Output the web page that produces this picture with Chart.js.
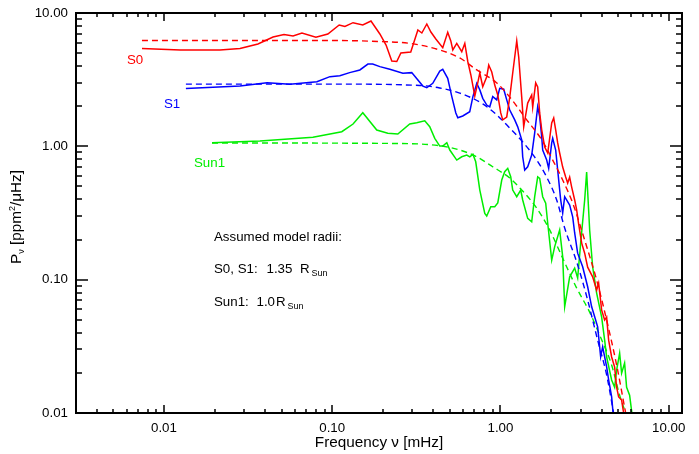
<!DOCTYPE html>
<html><head><meta charset="utf-8">
<script src="https://cdn.jsdelivr.net/npm/chart.js@4.4.0/dist/chart.umd.min.js"></script>
<style>html,body{margin:0;padding:0;background:#fff;}</style>
</head><body>
<canvas id="c" width="699" height="454"></canvas>
<script>
// ---- data (frequency in mHz, power in ppm^2/uHz) ----
const decadeTicks = [0.01, 0.1, 1, 10];
const xRange = [0.003, 12];
const yRange = [0.01, 10];

const s0Observed = [[0.0074,5.42],[0.0125,5.28],[0.0215,5.28],[0.0283,5.42],[0.0362,5.85],[0.0445,6.61],[0.0517,6.90],[0.0585,6.72],[0.0661,7.08],[0.080,6.57],[0.0942,6.96],[0.110,8.13],[0.119,7.92],[0.133,8.46],[0.152,8.13],[0.170,8.71],[0.192,6.96],[0.209,5.75],[0.226,4.37],[0.242,4.33],[0.256,5.01],[0.293,5.10],[0.323,7.46],[0.341,7.08],[0.365,8.27],[0.386,7.20],[0.413,6.38],[0.454,5.50],[0.486,7.17],[0.507,6.17],[0.521,5.28],[0.550,5.92],[0.589,5.13],[0.614,5.92],[0.640,4.31],[0.667,3.43],[0.704,2.38],[0.733,2.99],[0.754,3.55],[0.785,2.80],[0.829,3.33],[0.852,4.07],[0.888,3.61],[0.925,2.88],[0.964,2.43],[1.004,1.78],[1.032,1.58],[1.090,1.66],[1.136,2.34],[1.183,3.55],[1.250,6.17],[1.284,4.68],[1.338,2.34],[1.375,1.40],[1.452,2.11],[1.534,2.43],[1.555,1.97],[1.620,2.99],[1.665,2.79],[1.711,1.78],[1.759,1.33],[1.833,0.988],[1.910,0.891],[2.017,1.50],[2.073,1.63],[2.130,1.33],[2.189,1.06],[2.249,0.891],[2.344,0.699],[2.442,0.588],[2.510,0.530],[2.579,0.588],[2.651,0.495],[2.762,0.396],[2.839,0.333],[2.917,0.261],[3.040,0.188],[3.167,0.158],[3.299,0.124],[3.532,0.105],[3.731,0.0836],[3.834,0.0943],[3.996,0.0591],[4.163,0.0498],[4.278,0.0524],[4.397,0.0352],[4.581,0.0263],[4.773,0.0221],[4.905,0.0156],[5.041,0.0132],[5.252,0.0125],[5.47,0.009]];

const s1Observed = [[0.0135,2.71],[0.0283,2.83],[0.0410,3.00],[0.0561,2.92],[0.0811,3.05],[0.0969,3.33],[0.111,3.39],[0.127,3.57],[0.146,3.74],[0.163,4.14],[0.174,4.14],[0.192,3.96],[0.220,3.78],[0.263,3.53],[0.297,3.57],[0.346,2.83],[0.365,2.75],[0.396,2.97],[0.436,3.67],[0.454,3.78],[0.486,3.24],[0.514,2.36],[0.543,1.78],[0.558,1.64],[0.597,1.69],[0.657,1.82],[0.686,2.36],[0.723,2.97],[0.754,2.65],[0.785,2.29],[0.829,2.04],[0.864,1.98],[0.900,2.36],[0.951,2.23],[0.990,2.72],[1.046,2.68],[1.090,2.23],[1.136,1.87],[1.216,1.58],[1.267,1.40],[1.338,1.12],[1.356,0.835],[1.394,0.664],[1.452,0.703],[1.534,0.860],[1.598,1.26],[1.665,1.98],[1.711,1.67],[1.759,1.18],[1.783,0.938],[1.883,0.789],[1.935,0.684],[2.017,1.06],[2.045,1.15],[2.130,0.938],[2.189,0.664],[2.281,0.396],[2.344,0.316],[2.409,0.419],[2.579,0.363],[2.688,0.296],[2.762,0.224],[2.877,0.158],[3.081,0.125],[3.299,0.0885],[3.485,0.0626],[3.631,0.0527],[3.783,0.0443],[3.941,0.0264],[4.051,0.0314],[4.278,0.0222],[4.397,0.0177],[4.581,0.0132],[4.708,0.009]];

const sun1Observed = [[0.0193,1.064],[0.0372,1.096],[0.0768,1.168],[0.114,1.287],[0.133,1.470],[0.152,1.787],[0.184,1.325],[0.214,1.252],[0.2455,1.237],[0.289,1.470],[0.318,1.503],[0.355,1.556],[0.380,1.403],[0.407,1.148],[0.436,1.005],[0.454,1.005],[0.480,1.064],[0.500,0.938],[0.550,0.789],[0.589,0.835],[0.631,0.860],[0.657,0.835],[0.686,0.871],[0.713,0.766],[0.754,0.470],[0.807,0.314],[0.829,0.300],[0.876,0.352],[0.925,0.352],[0.964,0.376],[1.018,0.559],[1.060,0.645],[1.105,0.684],[1.151,0.591],[1.183,0.470],[1.250,0.419],[1.320,0.470],[1.356,0.396],[1.452,0.288],[1.534,0.272],[1.598,0.419],[1.665,0.591],[1.711,0.575],[1.783,0.419],[1.858,0.374],[1.910,0.265],[2.017,0.140],[2.101,0.177],[2.249,0.236],[2.344,0.149],[2.409,0.0626],[2.579,0.105],[2.762,0.122],[2.877,0.103],[2.998,0.188],[3.167,0.396],[3.254,0.642],[3.391,0.236],[3.532,0.125],[3.731,0.0793],[3.996,0.0524],[4.163,0.0352],[4.278,0.0263],[4.580,0.0177],[4.773,0.0156],[4.905,0.0210],[5.111,0.0281],[5.252,0.0199],[5.47,0.0237],[5.623,0.0156],[5.859,0.0136],[6.107,0.009]];

const s0Model = [[0.0074,6.22],[0.097,6.22],[0.192,6.11],[0.289,5.92],[0.436,5.28],[0.573,4.60],[0.723,3.74],[0.951,2.99],[1.136,2.34],[1.433,1.58],[1.759,1.12],[2.045,0.789],[2.344,0.559],[2.688,0.376],[3.167,0.198],[3.731,0.0993],[4.278,0.0498],[4.905,0.0229],[5.55,0.0100]];
const s1Model = [[0.0135,2.93],[0.097,2.93],[0.332,2.86],[0.436,2.74],[0.573,2.51],[0.785,2.08],[0.951,1.72],[1.136,1.37],[1.356,1.08],[1.643,0.789],[1.883,0.588],[2.159,0.396],[2.409,0.244],[2.877,0.129],[3.299,0.0703],[3.783,0.0352],[4.278,0.0193],[4.708,0.0100]];
const sun1Model = [[0.0193,1.06],[0.252,1.05],[0.436,1.01],[0.573,0.938],[0.723,0.835],[0.900,0.703],[1.136,0.578],[1.356,0.462],[1.643,0.344],[1.962,0.236],[2.344,0.145],[2.839,0.0865],[3.391,0.0571],[3.887,0.0384],[4.580,0.0229],[5.111,0.0136],[5.55,0.0100]];

// ---- styling ----
const FONT = "'Liberation Sans', Arial, Helvetica, sans-serif";
const FS = 13.3;
const TFS = 15.3;
const RED = '#ff0000', BLUE = '#0000ff', GREEN = '#00ee00';
const toXY = arr => arr.map(p => ({x: p[0], y: p[1]}));

function solid(label, arr, color) {
  return {label, data: toXY(arr), borderColor: color, borderWidth: 1.5, pointRadius: 0, tension: 0, fill: false};
}
function dashed(label, arr, color) {
  return {label, data: toXY(arr), borderColor: color, borderWidth: 1.4, pointRadius: 0,
          cubicInterpolationMode: 'monotone', borderDash: [6, 4], fill: false};
}

function drawRich(ctx, parts, x, y) {
  let cx = x;
  for (const p of parts) {
    ctx.font = p.size + 'px ' + FONT;
    ctx.fillText(p.t, cx, y + (p.dy || 0));
    cx += ctx.measureText(p.t).width;
  }
  return cx;
}
function richWidth(ctx, parts) {
  let w = 0;
  for (const p of parts) { ctx.font = p.size + 'px ' + FONT; w += ctx.measureText(p.t).width; }
  return w;
}

const framePlugin = {
  id: 'frameTicks',
  afterDraw(chart) {
    const ctx = chart.ctx;
    const xs = chart.scales.x, ys = chart.scales.y;
    const L = Math.round(xs.getPixelForValue(xRange[0]));
    const R = Math.round(xs.getPixelForValue(xRange[1]));
    const T = Math.round(ys.getPixelForValue(yRange[1]));
    const B = Math.round(ys.getPixelForValue(yRange[0]));
    ctx.save();
    ctx.fillStyle = '#000';
    // frame (2px)
    ctx.fillRect(L - 1, T - 1, R - L + 2, 2);
    ctx.fillRect(L - 1, B - 1, R - L + 2, 2);
    ctx.fillRect(L - 1, T - 1, 2, B - T + 2);
    ctx.fillRect(R - 1, T - 1, 2, B - T + 2);
    // inward ticks on all four sides
    const tw = 1.5;
    for (let k = -3; k <= 1; k++) {
      for (let d = 1; d <= 9; d++) {
        const v = d * Math.pow(10, k);
        if (v >= xRange[0] * 0.999 && v <= xRange[1] * 1.001) {
          const px = Math.round(xs.getPixelForValue(v));
          const len = d === 1 ? 8 : 4;
          ctx.fillRect(px - tw / 2, B - len, tw, len);
          ctx.fillRect(px - tw / 2, T, tw, len);
        }
        if (v >= yRange[0] * 0.999 && v <= yRange[1] * 1.001) {
          const py = Math.round(ys.getPixelForValue(v));
          const len = d === 1 ? 12 : 6;
          ctx.fillRect(L, py - tw / 2, len, tw);
          ctx.fillRect(R - len, py - tw / 2, len, tw);
        }
      }
    }
    // annotations
    ctx.textBaseline = 'alphabetic';
    ctx.textAlign = 'left';
    ctx.font = FS + 'px ' + FONT;
    ctx.fillStyle = RED;   ctx.fillText('S0', 127, 64);
    ctx.fillStyle = BLUE;  ctx.fillText('S1', 164, 108);
    ctx.fillStyle = GREEN; ctx.fillText('Sun1', 194, 167);
    ctx.fillStyle = '#000';
    ctx.fillText('Assumed model radii:', 214, 241);
    ctx.fillText('S0, S1:', 214, 273);
    ctx.fillText('1.35', 266.5, 273);
    ctx.fillText('R', 300, 273);
    ctx.font = '9px ' + FONT; ctx.fillText('Sun', 311.5, 276);
    ctx.font = FS + 'px ' + FONT;
    ctx.fillText('Sun1:', 214, 306);
    ctx.fillText('1.0', 256.5, 306);
    ctx.fillText('R', 276, 306);
    ctx.font = '9px ' + FONT; ctx.fillText('Sun', 287.5, 309);
    // x title
    ctx.font = TFS + 'px ' + FONT;
    ctx.textAlign = 'center';
    ctx.fillText('Frequency \u03bd [mHz]', 379, 447);
    // y title
    ctx.textAlign = 'left';
    const parts = [{t: 'P', size: TFS}, {t: '\u03bd', size: 9, dy: 3}, {t: ' [ppm', size: TFS},
                   {t: '2', size: 9, dy: -6}, {t: '/\u03bcHz]', size: TFS}];
    ctx.translate(21, 217);
    ctx.rotate(-Math.PI / 2);
    const w = richWidth(ctx, parts);
    drawRich(ctx, parts, -w / 2, 0);
    ctx.restore();
  }
};

Chart.defaults.font.family = FONT;
Chart.defaults.font.size = FS;
Chart.defaults.color = '#000';

new Chart(document.getElementById('c'), {
  type: 'line',
  data: {
    datasets: [
      solid('S0', s0Observed, RED),
      dashed('S0 model', s0Model, RED),
      solid('S1', s1Observed, BLUE),
      dashed('S1 model', s1Model, BLUE),
      solid('Sun1', sun1Observed, GREEN),
      dashed('Sun1 model', sun1Model, GREEN)
    ]
  },
  options: {
    responsive: false,
    animation: false,
    devicePixelRatio: 1,
    layout: {padding: {left: 0, right: 17, top: 13, bottom: 0}},
    plugins: {legend: {display: false}, tooltip: {enabled: false}},
    scales: {
      x: {
        type: 'logarithmic', position: 'bottom', min: xRange[0], max: xRange[1],
        grid: {display: false, drawTicks: false}, border: {display: false},
        ticks: {autoSkip: false, maxRotation: 0, padding: 7, color: '#000',
                callback: v => Number(v).toFixed(2)},
        afterBuildTicks: s => { s.ticks = decadeTicks.map(v => ({value: v})); },
        afterFit: s => { s.height = 41; s.paddingLeft = 0; s.paddingRight = 0; }
      },
      y: {
        type: 'logarithmic', position: 'left', min: yRange[0], max: yRange[1],
        grid: {display: false, drawTicks: false}, border: {display: false},
        ticks: {autoSkip: false, padding: 8, color: '#000',
                callback: v => Number(v).toFixed(2)},
        afterBuildTicks: s => { s.ticks = decadeTicks.map(v => ({value: v})); },
        afterFit: s => { s.width = 76; s.paddingTop = 0; s.paddingBottom = 0; }
      }
    }
  },
  plugins: [framePlugin]
});
</script>
</body></html>
